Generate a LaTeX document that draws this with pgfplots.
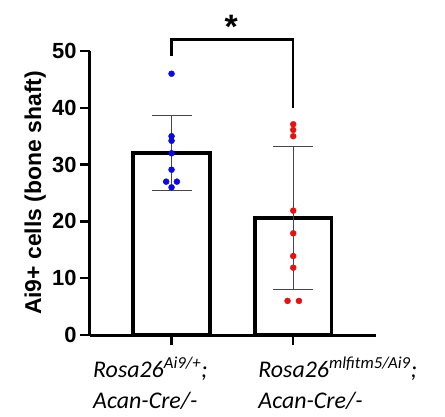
\documentclass[border=0pt]{standalone}
\usepackage{pgfplots}
\pgfplotsset{compat=1.18}
\usepackage{fontspec}
\setmainfont{Liberation Sans}
\newfontfamily\carlito{Carlito}
\definecolor{dotblue}{RGB}{10,10,225}
\definecolor{dotred}{RGB}{225,20,20}
\definecolor{capgray}{RGB}{70,70,70}
\begin{document}
\begin{tikzpicture}
\useasboundingbox (-90bp,-82bp) rectangle (355bp,335bp);
\begin{axis}[
  scale only axis,
  width=286bp, height=284bp,
  xmin=-0.67, xmax=1.68,
  ymin=0, ymax=50,
  clip=false,
  axis x line*=bottom,
  axis y line*=left,
  axis line style={line width=3bp, black},
  tick align=outside,
  major tick length=10bp,
  tick style={line width=2.5bp, black},
  xtick={0,1},
  xticklabels={,},
  ytick={0,10,20,30,40,50},
  /pgf/number format/assume math mode=true,
  yticklabel style={font=\fontsize{22}{26}\selectfont\bfseries},
  ylabel={\bfseries Ai9+ cells (bone shaft)},
  every axis y label/.style={at={(axis description cs:-0.192,0.5)}, rotate=90, anchor=center, font=\fontsize{23}{27}\selectfont},
]
% bars (means)
\addplot[ybar, bar width=0.632, draw=black, line width=3.5bp, fill=white]
  coordinates {(0,32.0) (1,20.6)};
% error bars (SD)
\addplot[draw=none, mark=none,
  error bars/.cd, y dir=both, y explicit,
  error bar style={draw=capgray, line width=1.3bp, solid},
  error mark options={rotate=90, mark size=20bp, line width=1.3bp, draw=capgray}]
  coordinates {(0,32.0) +- (0,6.6) (1,20.6) +- (0,12.6)};
% individual points
\addplot[only marks, mark=*, mark size=3bp, draw=dotblue, fill=dotblue]
  coordinates {(0,46.0) (0,35.0) (0,34.2) (0,32.0) (0,29.1) (-0.044,27.0) (0.044,27.0) (0,26.0)};
\addplot[only marks, mark=*, mark size=3bp, draw=dotred, fill=dotred]
  coordinates {(1,37.1) (1,36.1) (1,35.0) (1,21.9) (1,17.9) (1,13.9) (1,11.85) (0.953,6.0) (1.047,6.0)};
% significance bracket
\draw[line width=2.5bp, black] (axis cs:0,49.2) -- (axis cs:0,52.0) -- (axis cs:1,52.0) -- (axis cs:1,40.0);
\node[anchor=base, font=\fontsize{34}{34}\selectfont\bfseries, inner sep=0pt] at (axis cs:0.49,52.2) {*};
% category labels
\node[anchor=base west, inner sep=0pt, font=\fontsize{24}{28}\selectfont\carlito\itshape] at ([xshift=-78.5bp, yshift=-42bp]axis cs:0,0) {Rosa26\textsuperscript{Ai9/+};};
\node[anchor=base west, inner sep=0pt, font=\fontsize{24}{28}\selectfont\carlito\itshape] at ([xshift=-78.5bp, yshift=-73bp]axis cs:0,0) {Acan-Cre/-};
\node[anchor=base west, inner sep=0pt, font=\fontsize{24}{28}\selectfont\carlito\itshape] at ([xshift=-35bp, yshift=-42bp]axis cs:1,0) {Rosa26\textsuperscript{mlfitm5/Ai9};};
\node[anchor=base west, inner sep=0pt, font=\fontsize{24}{28}\selectfont\carlito\itshape] at ([xshift=-35bp, yshift=-73bp]axis cs:1,0) {Acan-Cre/-};
\end{axis}
\end{tikzpicture}
\end{document}
